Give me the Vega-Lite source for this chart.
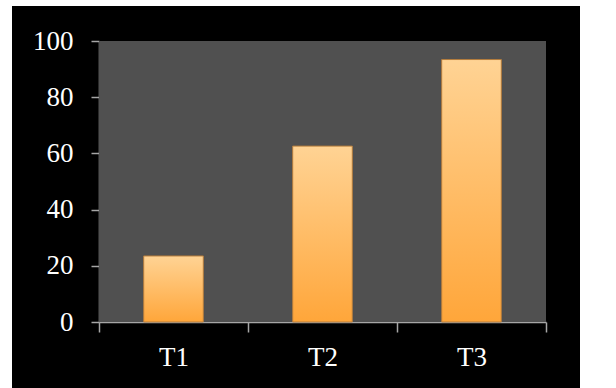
{
  "$schema": "https://vega.github.io/schema/vega-lite/v6.json",
  "width": 568,
  "height": 382,
  "autosize": {"type": "none"},
  "padding": {"left": 12, "top": 6, "right": 36, "bottom": 0},
  "background": "white",
  "config": {
    "view": {"fill": "black", "stroke": null},
    "axis": {
      "title": null,
      "grid": false,
      "domainColor": "#a6a6a6",
      "tickColor": "#a6a6a6",
      "domainWidth": 1.5,
      "tickWidth": 1.5,
      "labelColor": "white",
      "labelFont": "Liberation Serif",
      "labelFontSize": 27
    }
  },
  "data": {
    "values": [
      {"cat": "T1", "value": 23.5},
      {"cat": "T2", "value": 62.6},
      {"cat": "T3", "value": 93.4}
    ]
  },
  "encoding": {
    "x": {
      "field": "cat",
      "type": "nominal",
      "scale": {"range": [87, 534], "paddingInner": 0, "paddingOuter": 0},
      "axis": {"orient": "bottom", "offset": -66, "tickBand": "extent", "tickSize": 10, "labelAngle": 0, "labelPadding": 12}
    }
  },
  "layer": [
    {
      "mark": {"type": "bar", "fill": "#505050", "width": {"band": 1}},
      "encoding": {
        "y": {
          "datum": 100,
          "type": "quantitative",
          "scale": {"domain": [0, 100], "range": [316, 35]},
          "axis": {"orient": "left", "offset": -87, "tickSize": 8, "labelPadding": 18, "values": [0, 20, 40, 60, 80, 100]}
        },
        "y2": {"datum": 0}
      }
    },
    {
      "mark": {
        "type": "bar",
        "width": {"band": 0.4},
        "stroke": "#b47c3c",
        "strokeWidth": 1,
        "fill": {
          "gradient": "linear",
          "x1": 0, "y1": 0, "x2": 0, "y2": 1,
          "stops": [
            {"offset": 0, "color": "#ffd394"},
            {"offset": 1, "color": "#ffa63a"}
          ]
        }
      },
      "encoding": {
        "y": {"field": "value", "type": "quantitative"}
      }
    }
  ]
}
